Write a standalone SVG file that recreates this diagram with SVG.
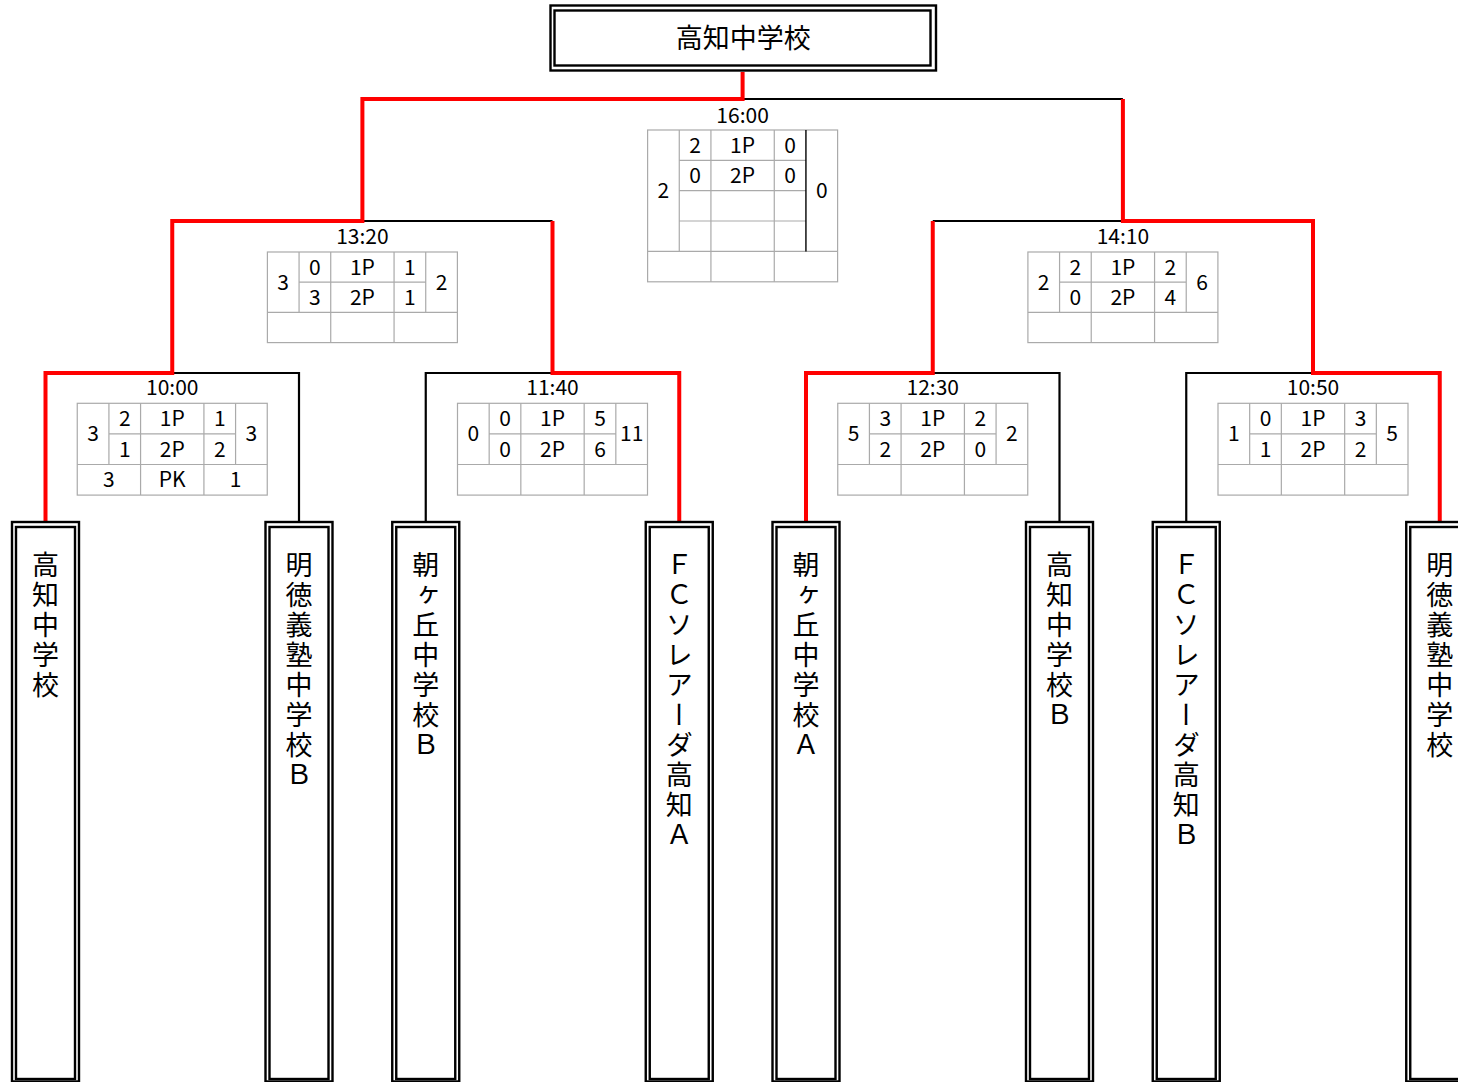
<svg xmlns="http://www.w3.org/2000/svg" width="1458" height="1082" viewBox="0 0 1458 1082">
<style>
.bg{fill:#fff}
.blk{fill:none;stroke:#000;stroke-width:2.2}
.red{fill:none;stroke:#f00;stroke-width:4}
.frame{fill:#fff;stroke:#000;stroke-width:2.4}
.frame2{fill:none;stroke:#000;stroke-width:2.4}
.grid{fill:none;stroke:#aaa;stroke-width:1.2}
.gdark{fill:none;stroke:#000;stroke-width:1.4}
.num{font-family:"Noto Sans CJK JP","Noto Sans",sans-serif;font-size:21px;text-anchor:middle;fill:#000}
.title{font-family:"Noto Sans CJK JP",sans-serif;font-size:27px;text-anchor:middle;fill:#000}
.team{font-family:"Noto Sans CJK JP",sans-serif;font-size:27px;writing-mode:vertical-rl;letter-spacing:3px;fill:#000}
</style>
<rect class="bg" x="0" y="0" width="1458" height="1082"/>

<g id="connectors">
  <path class="blk" d="M742.6,99 H1122.9"/>
  <path class="blk" d="M362.4,221 H552.5"/>
  <path class="blk" d="M932.75,221 H1122.9"/>
  <path class="blk" d="M172.25,373 H299 V522"/>
  <path class="blk" d="M425.75,522 V373 H552.5"/>
  <path class="blk" d="M932.75,373 H1059.5 V522"/>
  <path class="blk" d="M1186.25,522 V373 H1313"/>
  <path class="red" d="M45.5,522 V373 H172.25 V221 H362.4 V99 H742.6 V72"/>
  <path class="red" d="M552.5,221 V373 H679.25 V522"/>
  <path class="red" d="M806,522 V373 H932.75 V221"/>
  <path class="red" d="M1439.75,522 V373 H1313 V221 H1122.9 V99"/>
</g>

<g id="champion">
  <rect class="frame" x="550.5" y="5.5" width="385.5" height="65"/>
  <rect class="frame2" x="554.5" y="10.5" width="376" height="55"/>
  <text class="title" x="743.3" y="48">高知中学校</text>
</g>

<g id="team1">
  <rect class="frame" x="12" y="522" width="67" height="559.5"/>
  <rect class="frame2" x="16" y="527" width="59" height="552"/>
  <text class="team" x="45.5" y="551">高知中学校</text>
</g>
<g id="team2">
  <rect class="frame" x="265.5" y="522" width="67" height="559.5"/>
  <rect class="frame2" x="269.5" y="527" width="59" height="552"/>
  <text class="team" x="299" y="551">明徳義塾中学校Ｂ</text>
</g>
<g id="team3">
  <rect class="frame" x="392.25" y="522" width="67" height="559.5"/>
  <rect class="frame2" x="396.25" y="527" width="59" height="552"/>
  <text class="team" x="425.75" y="551">朝ヶ丘中学校Ｂ</text>
</g>
<g id="team4">
  <rect class="frame" x="645.75" y="522" width="67" height="559.5"/>
  <rect class="frame2" x="649.75" y="527" width="59" height="552"/>
  <text class="team" x="679.25" y="551">ＦＣソレアーダ高知Ａ</text>
</g>
<g id="team5">
  <rect class="frame" x="772.5" y="522" width="67" height="559.5"/>
  <rect class="frame2" x="776.5" y="527" width="59" height="552"/>
  <text class="team" x="806" y="551">朝ヶ丘中学校Ａ</text>
</g>
<g id="team6">
  <rect class="frame" x="1026" y="522" width="67" height="559.5"/>
  <rect class="frame2" x="1030" y="527" width="59" height="552"/>
  <text class="team" x="1059.5" y="551">高知中学校Ｂ</text>
</g>
<g id="team7">
  <rect class="frame" x="1152.75" y="522" width="67" height="559.5"/>
  <rect class="frame2" x="1156.75" y="527" width="59" height="552"/>
  <text class="team" x="1186.25" y="551">ＦＣソレアーダ高知Ｂ</text>
</g>
<g id="team8">
  <rect class="frame" x="1406.25" y="522" width="67" height="559.5"/>
  <rect class="frame2" x="1410.25" y="527" width="59" height="552"/>
  <text class="team" x="1439.75" y="551">明徳義塾中学校</text>
</g>

<g id="score-m1" transform="translate(77.25,403.3)">
  <rect class="grid" x="0" y="0" width="190" height="91.8"/>
  <path class="grid" d="M31.67,0 V61.2 M63.33,0 V91.8 M126.67,0 V91.8 M158.33,0 V61.2 M31.67,30.6 H158.33 M0,61.2 H190"/>
  <text class="num" x="95" y="-8.5">10:00</text>
  <text class="num" x="15.8" y="38">3</text>
  <text class="num" x="47.5" y="22.7">2</text>
  <text class="num" x="95" y="22.7">1P</text>
  <text class="num" x="142.5" y="22.7">1</text>
  <text class="num" x="47.5" y="53.3">1</text>
  <text class="num" x="95" y="53.3">2P</text>
  <text class="num" x="142.5" y="53.3">2</text>
  <text class="num" x="174.2" y="38">3</text>
  <text class="num" x="31.67" y="83.9">3</text>
  <text class="num" x="95" y="83.9">PK</text>
  <text class="num" x="158.33" y="83.9">1</text>
</g>
<g id="score-m2" transform="translate(457.5,403.3)">
  <rect class="grid" x="0" y="0" width="190" height="91.8"/>
  <path class="grid" d="M31.67,0 V61.2 M63.33,0 V91.8 M126.67,0 V91.8 M158.33,0 V61.2 M31.67,30.6 H158.33 M0,61.2 H190"/>
  <text class="num" x="95" y="-8.5">11:40</text>
  <text class="num" x="15.8" y="38">0</text>
  <text class="num" x="47.5" y="22.7">0</text>
  <text class="num" x="95" y="22.7">1P</text>
  <text class="num" x="142.5" y="22.7">5</text>
  <text class="num" x="47.5" y="53.3">0</text>
  <text class="num" x="95" y="53.3">2P</text>
  <text class="num" x="142.5" y="53.3">6</text>
  <text class="num" x="174.2" y="38">11</text>
</g>
<g id="score-m3" transform="translate(837.75,403.3)">
  <rect class="grid" x="0" y="0" width="190" height="91.8"/>
  <path class="grid" d="M31.67,0 V61.2 M63.33,0 V91.8 M126.67,0 V91.8 M158.33,0 V61.2 M31.67,30.6 H158.33 M0,61.2 H190"/>
  <text class="num" x="95" y="-8.5">12:30</text>
  <text class="num" x="15.8" y="38">5</text>
  <text class="num" x="47.5" y="22.7">3</text>
  <text class="num" x="95" y="22.7">1P</text>
  <text class="num" x="142.5" y="22.7">2</text>
  <text class="num" x="47.5" y="53.3">2</text>
  <text class="num" x="95" y="53.3">2P</text>
  <text class="num" x="142.5" y="53.3">0</text>
  <text class="num" x="174.2" y="38">2</text>
</g>
<g id="score-m4" transform="translate(1218,403.3)">
  <rect class="grid" x="0" y="0" width="190" height="91.8"/>
  <path class="grid" d="M31.67,0 V61.2 M63.33,0 V91.8 M126.67,0 V91.8 M158.33,0 V61.2 M31.67,30.6 H158.33 M0,61.2 H190"/>
  <text class="num" x="95" y="-8.5">10:50</text>
  <text class="num" x="15.8" y="38">1</text>
  <text class="num" x="47.5" y="22.7">0</text>
  <text class="num" x="95" y="22.7">1P</text>
  <text class="num" x="142.5" y="22.7">3</text>
  <text class="num" x="47.5" y="53.3">1</text>
  <text class="num" x="95" y="53.3">2P</text>
  <text class="num" x="142.5" y="53.3">2</text>
  <text class="num" x="174.2" y="38">5</text>
</g>

<g id="score-s1" transform="translate(267.4,252)">
  <rect class="grid" x="0" y="0" width="190" height="90.6"/>
  <path class="grid" d="M31.67,0 V60.4 M63.33,0 V90.6 M126.67,0 V90.6 M158.33,0 V60.4 M31.67,30.2 H158.33 M0,60.4 H190"/>
  <text class="num" x="95" y="-8.5">13:20</text>
  <text class="num" x="15.8" y="37.7">3</text>
  <text class="num" x="47.5" y="22.5">0</text>
  <text class="num" x="95" y="22.5">1P</text>
  <text class="num" x="142.5" y="22.5">1</text>
  <text class="num" x="47.5" y="52.8">3</text>
  <text class="num" x="95" y="52.8">2P</text>
  <text class="num" x="142.5" y="52.8">1</text>
  <text class="num" x="174.2" y="37.7">2</text>
</g>
<g id="score-s2" transform="translate(1027.9,252)">
  <rect class="grid" x="0" y="0" width="190" height="90.6"/>
  <path class="grid" d="M31.67,0 V60.4 M63.33,0 V90.6 M126.67,0 V90.6 M158.33,0 V60.4 M31.67,30.2 H158.33 M0,60.4 H190"/>
  <text class="num" x="95" y="-8.5">14:10</text>
  <text class="num" x="15.8" y="37.7">2</text>
  <text class="num" x="47.5" y="22.5">2</text>
  <text class="num" x="95" y="22.5">1P</text>
  <text class="num" x="142.5" y="22.5">2</text>
  <text class="num" x="47.5" y="52.8">0</text>
  <text class="num" x="95" y="52.8">2P</text>
  <text class="num" x="142.5" y="52.8">4</text>
  <text class="num" x="174.2" y="37.7">6</text>
</g>

<g id="score-final" transform="translate(647.6,130)">
  <rect class="grid" x="0" y="0" width="190" height="151.8"/>
  <path class="grid" d="M31.67,0 V121.4 M63.33,0 V151.8 M126.67,0 V151.8 M31.67,30.4 H158.33 M31.67,60.7 H158.33 M31.67,91 H158.33 M0,121.4 H190"/>
  <path class="gdark" d="M158.33,0 V121.4"/>
  <text class="num" x="95" y="-7.5">16:00</text>
  <text class="num" x="15.8" y="68.3">2</text>
  <text class="num" x="47.5" y="22.6">2</text>
  <text class="num" x="95" y="22.6">1P</text>
  <text class="num" x="142.5" y="22.6">0</text>
  <text class="num" x="47.5" y="53">0</text>
  <text class="num" x="95" y="53">2P</text>
  <text class="num" x="142.5" y="53">0</text>
  <text class="num" x="174.2" y="68.3">0</text>
</g>
</svg>
